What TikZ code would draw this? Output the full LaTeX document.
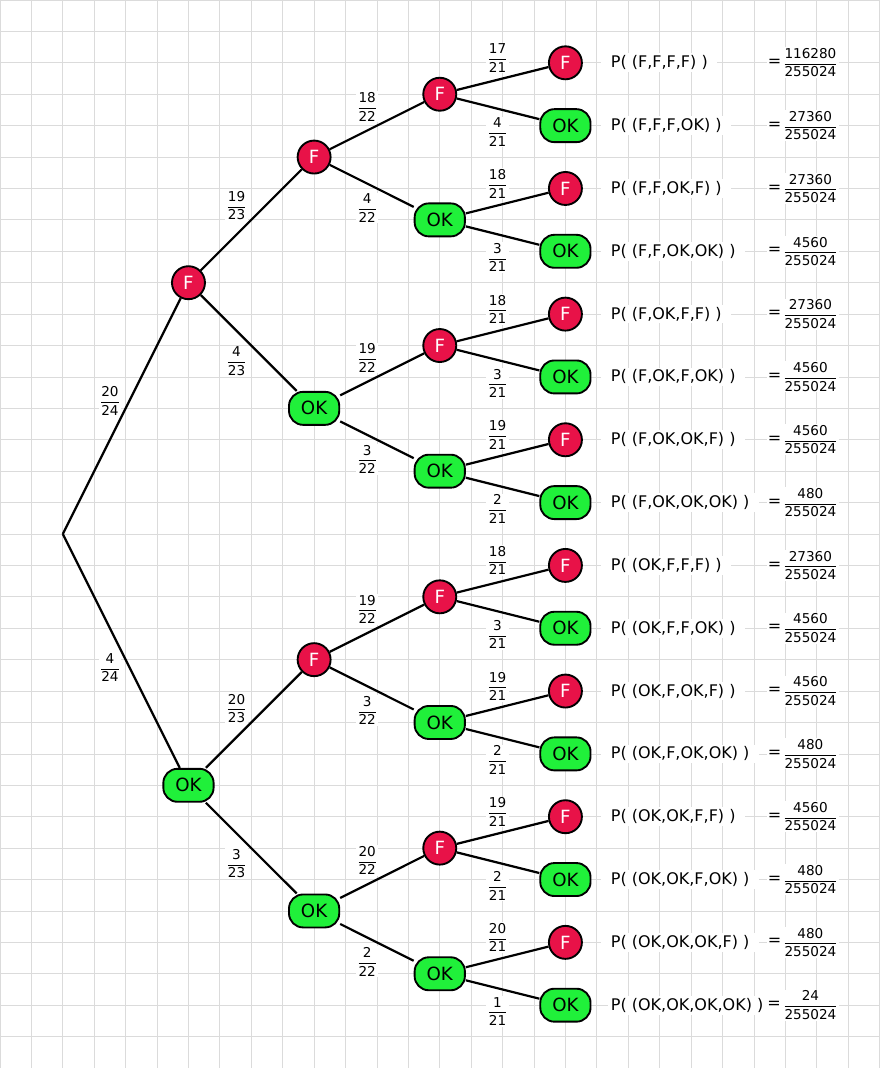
\documentclass[tikz,border=0pt]{standalone}
\usepackage{amsmath}
\usepackage{fontspec}
\setmainfont{DejaVu Sans}
\usetikzlibrary{positioning}
\definecolor{failred}{RGB}{232,18,72}
\definecolor{okgreen}{RGB}{32,240,58}
\newcommand{\pfrac}[2]{$\genfrac{}{}{0.7pt}{0}{\text{#1}}{\text{#2}}$}

\begin{document}
\begin{tikzpicture}[x=1cm,y=-1cm,
  gridline/.style={black!14,line width=0.7pt},
  fnode/.style={circle,draw,line width=1.7pt,fill=failred,text=white,minimum size=1.05cm,inner sep=0pt,font=\fontsize{16.5}{16}\selectfont},
  oknode/.style={rectangle,rounded corners=0.45cm,draw,line width=1.7pt,fill=okgreen,minimum width=1.6cm,minimum height=1.05cm,inner sep=0pt,font=\fontsize{16.5}{16}\selectfont},
  branch/.style={line width=2pt},
  prob/.style={fill=white,inner sep=1pt,font=\fontsize{12.3}{14}\selectfont},
  result/.style={anchor=west,fill=white,inner xsep=0.3cm,inner ysep=2pt,font=\fontsize{14.5}{16}\selectfont},
  equal/.style={fill=white,inner sep=1pt,font=\fontsize{14.5}{16}\selectfont}]

\useasboundingbox (0,0) rectangle (28,34);
\draw[gridline] (0,0) grid (28,34);

% tree
\coordinate (root) at (2,17);
\node[fnode] (F) at (6,9) {F};
\node[oknode] (O) at (6,25) {OK};
\node[fnode] (FF) at (10,5) {F};
\node[oknode] (FO) at (10,13) {OK};
\node[fnode] (OF) at (10,21) {F};
\node[oknode] (OO) at (10,29) {OK};
\node[fnode] (FFF) at (14,3) {F};
\node[oknode] (FFO) at (14,7) {OK};
\node[fnode] (FOF) at (14,11) {F};
\node[oknode] (FOO) at (14,15) {OK};
\node[fnode] (OFF) at (14,19) {F};
\node[oknode] (OFO) at (14,23) {OK};
\node[fnode] (OOF) at (14,27) {F};
\node[oknode] (OOO) at (14,31) {OK};

% branch probabilities
\node[prob] (pF) at (3.5,12.77) {\pfrac{20}{24}};
\node[prob] (pO) at (3.5,21.25) {\pfrac{4}{24}};
\node[prob] (pFF) at (7.53,6.55) {\pfrac{19}{23}};
\node[prob] (pFO) at (7.53,11.5) {\pfrac{4}{23}};
\node[prob] (pOF) at (7.53,22.55) {\pfrac{20}{23}};
\node[prob] (pOO) at (7.53,27.5) {\pfrac{3}{23}};
\node[prob] (pFFF) at (11.69,3.4) {\pfrac{18}{22}};
\node[prob] (pFFO) at (11.69,6.62) {\pfrac{4}{22}};
\node[prob] (pFOF) at (11.69,11.4) {\pfrac{19}{22}};
\node[prob] (pFOO) at (11.69,14.62) {\pfrac{3}{22}};
\node[prob] (pOFF) at (11.69,19.4) {\pfrac{19}{22}};
\node[prob] (pOFO) at (11.69,22.62) {\pfrac{3}{22}};
\node[prob] (pOOF) at (11.69,27.4) {\pfrac{20}{22}};
\node[prob] (pOOO) at (11.69,30.62) {\pfrac{2}{22}};

\draw[branch] (root) -- (F);
\draw[branch] (root) -- (O);
\foreach \a/\b in {F/FF,F/FO,O/OF,O/OO,FF/FFF,FF/FFO,FO/FOF,FO/FOO,OF/OFF,OF/OFO,OO/OOF,OO/OOO}
  \draw[branch] (\a) -- (\b);

% last draw
\foreach \y/\n/\up/\lo in {3/FFF/17/4,7/FFO/18/3,11/FOF/18/3,15/FOO/19/2,19/OFF/18/3,23/OFO/19/2,27/OOF/19/2,31/OOO/20/1} {
  \node[fnode] (\n-F) at (18,\y-1) {F};
  \node[oknode] (\n-O) at (18,\y+1) {OK};
  \node[prob] (p\n-F) at (15.84,\y-1.15) {\pfrac{\up}{21}};
  \node[prob] (p\n-O) at (15.84,\y+1.2) {\pfrac{\lo}{21}};
  \draw[branch] (\n) -- (\n-F);
  \draw[branch] (\n) -- (\n-O);
}

% results
\foreach \i/\s/\v in {1/{F,F,F,F}/116280,2/{F,F,F,OK}/27360,3/{F,F,OK,F}/27360,4/{F,F,OK,OK}/4560,
  5/{F,OK,F,F}/27360,6/{F,OK,F,OK}/4560,7/{F,OK,OK,F}/4560,8/{F,OK,OK,OK}/480,
  9/{OK,F,F,F}/27360,10/{OK,F,F,OK}/4560,11/{OK,F,OK,F}/4560,12/{OK,F,OK,OK}/480,
  13/{OK,OK,F,F}/4560,14/{OK,OK,F,OK}/480,15/{OK,OK,OK,F}/480} {
  \node[result] (res\i) at (19.14,2*\i) {P( (\s) )};
  \node[equal] (eq\i) at (24.66,2*\i) {=};
  \node[prob] (val\i) at (25.8,2*\i) {\pfrac{\v}{255024}};
}
\node[result,inner xsep=0.08cm] (res16) at (19.36,32) {P( (OK,OK,OK,OK) )};
\node[equal,right=0pt of res16] (eq16) {=};
\node[prob] (val16) at (25.8,32) {\pfrac{24}{255024}};
\end{tikzpicture}
\end{document}
